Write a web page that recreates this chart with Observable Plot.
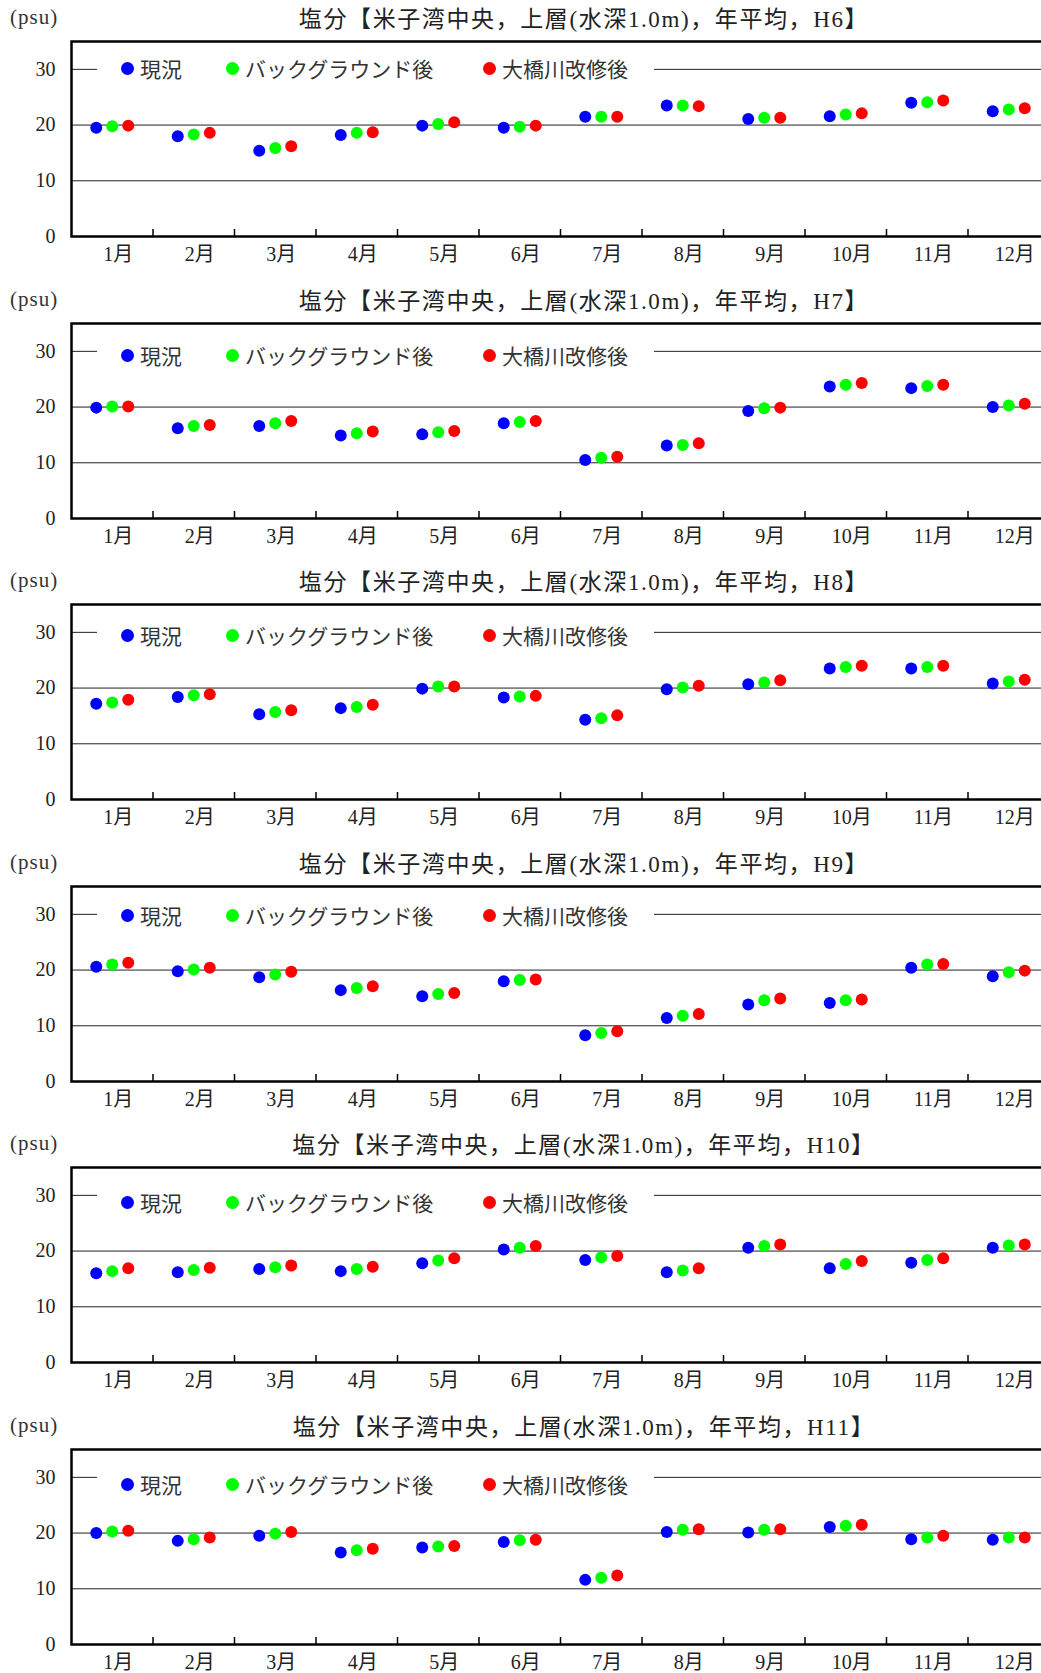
<!DOCTYPE html>
<html><head><meta charset="utf-8">
<script src="https://cdn.jsdelivr.net/npm/d3@7"></script>
<script src="https://cdn.jsdelivr.net/npm/@observablehq/plot@0.6"></script>
<style>
html,body{margin:0;padding:0;background:#fff;overflow:hidden;}
#wrap{position:relative;width:1041px;height:1673px;overflow:hidden;background:#fff;}
.panel{position:absolute;left:0;width:1049px;height:282px;}
.panel svg{max-width:none;display:block;}
.title{position:absolute;left:0;width:1168px;text-align:center;top:7px;font-family:"Liberation Serif","Noto Sans CJK JP",serif;font-size:23px;line-height:26px;color:#222;letter-spacing:1.6px;white-space:pre;}
.psu{position:absolute;left:10px;top:5px;font-family:"Liberation Serif",serif;font-size:21px;line-height:24px;color:#333;letter-spacing:1px;}
.legend{position:absolute;left:97px;width:557px;height:28px;background:#fff;font-family:"Noto Sans CJK JP",sans-serif;font-size:21px;color:#333;}
.item{position:absolute;top:0;height:28px;display:flex;align-items:center;white-space:nowrap;}
.sw{width:13px;height:13px;border-radius:50%;margin-right:6px;flex:none;}
</style>
</head><body><div id="wrap"></div>
<script>
// ---- data ----
const months = [1,2,3,4,5,6,7,8,9,10,11,12];
const years = ["H6","H7","H8","H9","H10","H11"];
const seriesNames = ["現況","バックグラウンド後","大橋川改修後"];
const yTicks = [0,10,20,30];
const gridValues = [10,20,30];

const current_H6    = [19.5,18.0,15.4,18.2,19.9,19.5,21.5,23.5,21.1,21.6,24.0,22.5];
const background_H6 = [19.8,18.3,15.9,18.6,20.2,19.7,21.5,23.5,21.3,21.9,24.1,22.8];
const ohashi_H6     = [19.9,18.6,16.2,18.7,20.5,19.9,21.5,23.4,21.3,22.1,24.4,23.0];

const current_H7    = [19.9,16.2,16.6,14.9,15.1,17.1,10.5,13.1,19.3,23.7,23.4,20.0];
const background_H7 = [20.1,16.6,17.1,15.3,15.5,17.3,10.9,13.2,19.8,24.0,23.8,20.3];
const ohashi_H7     = [20.1,16.8,17.5,15.6,15.7,17.5,11.1,13.5,19.9,24.3,24.0,20.6];

const current_H8    = [17.2,18.4,15.3,16.4,19.9,18.3,14.3,19.8,20.7,23.5,23.5,20.8];
const background_H8 = [17.4,18.7,15.7,16.6,20.3,18.5,14.6,20.1,21.0,23.8,23.8,21.2];
const ohashi_H8     = [17.9,18.9,16.0,17.0,20.3,18.6,15.1,20.4,21.4,24.0,24.0,21.5];

const current_H9    = [20.6,19.8,18.7,16.4,15.3,18.0,8.3,11.4,13.8,14.1,20.4,18.9];
const background_H9 = [21.0,20.1,19.2,16.8,15.7,18.2,8.7,11.8,14.6,14.6,21.0,19.6];
const ohashi_H9     = [21.3,20.4,19.7,17.1,15.9,18.3,9.0,12.1,14.9,14.7,21.1,19.9];

const current_H10    = [16.0,16.2,16.8,16.4,17.8,20.3,18.4,16.2,20.6,16.9,17.9,20.6];
const background_H10 = [16.4,16.6,17.1,16.8,18.3,20.6,18.9,16.5,20.9,17.7,18.4,21.0];
const ohashi_H10     = [16.9,17.0,17.4,17.2,18.7,20.9,19.1,16.9,21.2,18.2,18.7,21.2];

const current_H11    = [20.0,18.6,19.5,16.5,17.4,18.4,11.6,20.2,20.1,21.1,18.9,18.8];
const background_H11 = [20.3,18.9,19.9,16.9,17.6,18.7,12.0,20.6,20.6,21.3,19.2,19.2];
const ohashi_H11     = [20.4,19.2,20.2,17.2,17.7,18.8,12.4,20.7,20.7,21.5,19.5,19.2];

// ---- styling / layout ----
const seriesColors = ["#0000ff","#00ff00","#ff0000"];
const seriesDx = [-16,0,16];
const panelData = [
  [current_H6,background_H6,ohashi_H6],
  [current_H7,background_H7,ohashi_H7],
  [current_H8,background_H8,ohashi_H8],
  [current_H9,background_H9,ohashi_H9],
  [current_H10,background_H10,ohashi_H10],
  [current_H11,background_H11,ohashi_H11]
];
const panelTops = [0,282,563,845,1126,1408];
const legendCenters = [68,73,72,70,76,76];
const legendLefts = [24,129,386];
const serifFont = '"Liberation Serif","Noto Sans CJK JP",serif';

const wrap = document.getElementById("wrap");
const bounds = months.slice(1).map(m => m - 0.5);

years.forEach((yr, p) => {
  const panel = document.createElement("div");
  panel.className = "panel";
  panel.style.top = panelTops[p] + "px";
  wrap.appendChild(panel);

  const marks = [
    Plot.ruleY(gridValues, {stroke: "#222", strokeWidth: 1}),
    Plot.tickX(bounds, {x: d => d, insetTop: 188, stroke: "#000", strokeWidth: 1.5}),
    Plot.axisY(yTicks, {tickSize: 0, tickPadding: 16, fontSize: 20, fontFamily: serifFont, fill: "#222"}),
    Plot.axisX(months, {tickSize: 0, tickPadding: 10, dx: 6, tickFormat: d => d + "月", fontSize: 20, fontFamily: serifFont, fill: "#222"})
  ];
  panelData[p].forEach((vals, s) => {
    marks.push(Plot.dot(months, {x: d => d, y: (d, i) => vals[i], r: 6, fill: seriesColors[s], stroke: "none", dx: seriesDx[s]}));
  });
  marks.push(Plot.frame({stroke: "#000", strokeWidth: 2.5}));

  const chart = Plot.plot({
    width: 1049, height: 282,
    marginLeft: 71, marginRight: 0, marginTop: 41, marginBottom: 46,
    x: {type: "linear", domain: [0.5, 12.5], label: null, axis: null},
    y: {domain: [0, 35], label: null, axis: null},
    style: {background: "white", color: "#222", fontFamily: serifFont, overflow: "visible"},
    marks
  });
  panel.appendChild(chart);

  const title = document.createElement("div");
  title.className = "title";
  title.textContent = `塩分【米子湾中央，上層(水深1.0m)，年平均，${yr}】`;
  panel.appendChild(title);

  const psu = document.createElement("div");
  psu.className = "psu";
  psu.textContent = "(psu)";
  panel.appendChild(psu);

  const legend = document.createElement("div");
  legend.className = "legend";
  legend.style.top = (legendCenters[p] - 14) + "px";
  seriesNames.forEach((name, s) => {
    const item = document.createElement("div");
    item.className = "item";
    item.style.left = legendLefts[s] + "px";
    const sw = document.createElement("span");
    sw.className = "sw";
    sw.style.background = seriesColors[s];
    item.appendChild(sw);
    const t = document.createElement("span");
    t.textContent = name;
    item.appendChild(t);
    legend.appendChild(item);
  });
  panel.appendChild(legend);
});
</script>
</body></html>
